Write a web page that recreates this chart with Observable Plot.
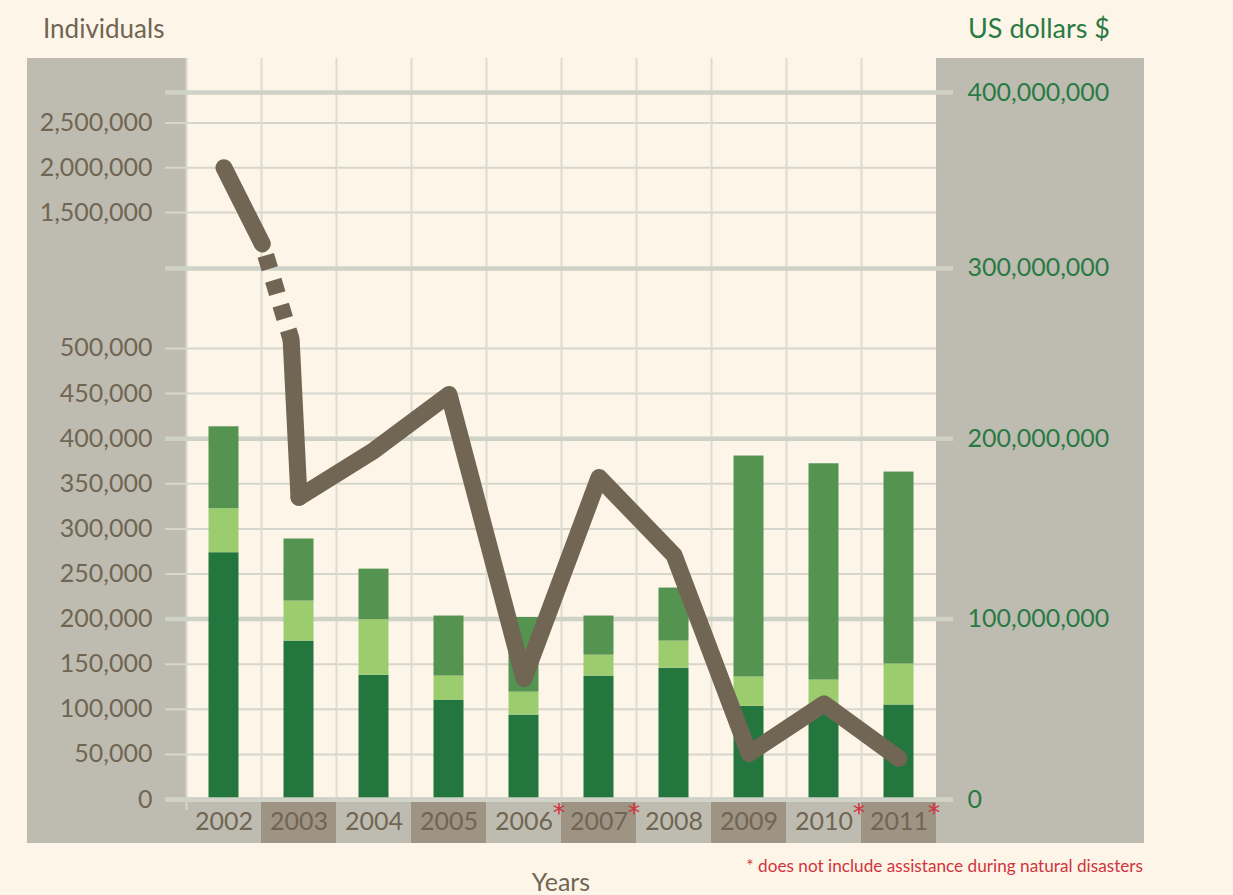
<!DOCTYPE html>
<html><head><meta charset="utf-8">
<script src="https://cdn.jsdelivr.net/npm/d3@7"></script>
<script src="https://cdn.jsdelivr.net/npm/@observablehq/plot@0.6"></script>
<style>
html,body{margin:0;padding:0;background:#fdf5e8;}
#wrap{position:relative;width:1233px;height:895px;overflow:hidden;font-family:Lato,"Open Sans",sans-serif;}
.panel{position:absolute;background:#bebcb0;}
.box{position:absolute;top:802px;height:41px;}
.lbl{position:absolute;white-space:nowrap;font-size:25px;line-height:25px;}
#chart{position:absolute;left:0;top:0;}
</style></head><body>
<div id="wrap">
  <div class="panel" style="left:27px;top:58px;width:159px;height:785px"></div>
  <div class="panel" style="left:936px;top:58px;width:208px;height:785px"></div>
  <div id="boxes"></div>
  <div id="chart"></div>
  <div class="lbl" style="left:43px;top:15px;font-size:26px;line-height:26px;color:#716553">Individuals</div>
  <div class="lbl" style="left:968px;top:14px;font-size:27px;line-height:27px;color:#2a7a45">US dollars $</div>
  <div class="lbl" style="left:561px;top:869px;transform:translateX(-50%);color:#716553">Years</div>
  <div class="lbl" style="right:90px;top:857px;font-size:17.2px;line-height:17px;color:#d1343c">* does not include assistance during natural disasters</div>
</div>
<script>
// ---------- data ----------
const years = [2002, 2003, 2004, 2005, 2006, 2007, 2008, 2009, 2010, 2011];
// individuals (line, left axis)
const individuals = [2000000, 335000, 387000, 449000, 134000, 357000, 271000, 51000, 106000, 45500];
// US dollars, millions (stacked bars, right axis)
const fundingDarkM   = [136.8, 87.8, 68.9, 55.1, 46.8, 68.4, 72.8, 51.7, 51.2, 52.4];
const fundingLightM  = [24.4, 22.2, 30.8, 13.3, 12.7, 11.6, 15.0, 16.2, 15.0, 22.7];
const fundingMediumM = [45.8, 34.4, 28.0, 33.3, 41.4, 21.7, 29.4, 122.5, 119.9, 106.4];
const starYears = [2006, 2007, 2010, 2011];
const individualTicks = [0, 50000, 100000, 150000, 200000, 250000, 300000, 350000, 400000, 450000, 500000, 1500000, 2000000, 2500000];
const dollarTicksM = [0, 100, 200, 300, 400];

// ---------- broken-axis mappings (value -> common y unit) ----------
const BREAK_LOW = 510000, BREAK_HIGH = 1150000;
const indivToY = d3.scaleLinear().domain([0, BREAK_LOW, BREAK_HIGH, 2500000]).range([0, 510000, 616000, 750100]);
const dollarsMToY = d3.scaleLinear().domain([0, 200, 300, 400]).range([0, 400000, 588700, 783800]);

const colors = {dark: "#24763f", light: "#9bcd6f", medium: "#559351"};
const seriesList = [
  {name: "dark", values: fundingDarkM},
  {name: "light", values: fundingLightM},
  {name: "medium", values: fundingMediumM}
];
const barRows = years.flatMap((yr, i) => {
  let c = 0;
  return seriesList.map(s => { const y1 = c; c += s.values[i]; return {year: yr, series: s.name, y1, y2: c}; });
});

const linePts = years.map((yr, i) => ({year: yr, v: individuals[i]}));
// segment 2002 -> 2003 crosses the axis break
const a = linePts[0], b = linePts[1];
const tAt = v => (a.v - v) / (a.v - b.v);
const xHigh = a.year + tAt(BREAK_HIGH) * (b.year - a.year);
const xLow = a.year + tAt(BREAK_LOW) * (b.year - a.year);
const solidParts = [
  {x1: a.year, y1: indivToY(a.v), x2: xHigh, y2: indivToY(BREAK_HIGH)},
  {x1: xLow, y1: indivToY(BREAK_LOW), x2: b.year, y2: indivToY(b.v)}
];
const dashedPart = [{x1: xHigh, y1: indivToY(BREAK_HIGH), x2: xLow, y2: indivToY(BREAK_LOW)}];

const leftLabel = new Map(individualTicks.map(t => [indivToY(t), d3.format(",")(t)]));
const rightLabel = new Map(dollarTicksM.map(t => [dollarsMToY(t), d3.format(",")(t * 1e6)]));

const lineColor = "#716553";
const boundaries = years.map(y => y + 0.5).slice(0, -1);

const plot = Plot.plot({
  width: 1233, height: 895,
  marginLeft: 186, marginRight: 297, marginTop: 58, marginBottom: 96,
  style: {background: "transparent", fontFamily: "Lato, 'Open Sans', sans-serif", overflow: "visible"},
  x: {type: "linear", domain: [2001.5, 2011.5]},
  y: {domain: [0, 821500]},
  color: {domain: ["dark", "light", "medium"], range: [colors.dark, colors.light, colors.medium]},
  marks: [
    Plot.ruleY(individualTicks.map(indivToY), {stroke: "#d6d6cc", strokeWidth: 2, insetLeft: -21}),
    Plot.ruleX(boundaries, {stroke: "#dcdcd1", strokeWidth: 2}),
    Plot.ruleX([2001.5], {stroke: "#d8d8ce", strokeWidth: 2, insetBottom: -11}),
    Plot.ruleY(dollarTicksM.map(dollarsMToY), {stroke: "#cfd2c6", strokeWidth: 4.5, insetLeft: -21, insetRight: -17}),
    Plot.rect(barRows, {x1: d => d.year - 0.2, x2: d => d.year + 0.2, y1: d => dollarsMToY(d.y1), y2: d => dollarsMToY(d.y2), fill: "series"}),
    Plot.ruleY([0], {stroke: "#cfd2c6", strokeWidth: 4.5, insetLeft: -21, insetRight: -17}),
    Plot.link(solidParts, {x1: "x1", y1: "y1", x2: "x2", y2: "y2", stroke: lineColor, strokeWidth: 17, strokeLinecap: "round"}),
    Plot.link(dashedPart, {x1: "x1", y1: "y1", x2: "x2", y2: "y2", stroke: lineColor, strokeWidth: 17, strokeLinecap: "butt", strokeDasharray: "14,12", strokeDashoffset: 14}),
    Plot.line(linePts.slice(1), {x: "year", y: d => indivToY(d.v), stroke: lineColor, strokeWidth: 17, strokeLinecap: "round", strokeLinejoin: "round"}),
    Plot.axisY({anchor: "left", ticks: individualTicks.map(indivToY), tickFormat: d => leftLabel.get(d), tickSize: 0, tickPadding: 34, fontSize: 25, fill: "#716553"}),
    Plot.axisY({anchor: "right", ticks: dollarTicksM.map(dollarsMToY), tickFormat: d => rightLabel.get(d), tickSize: 0, tickPadding: 31, fontSize: 25, fill: "#2a7a45"}),
    Plot.axisX({ticks: years, tickFormat: d => String(d), tickSize: 0, tickPadding: 13, fontSize: 25, fill: "#716553"}),
    Plot.text(starYears, {x: d => d, frameAnchor: "bottom", dx: 35, dy: 21, text: () => "*", fill: "#d1343c", fontSize: 25, fontFamily: "DejaVu Sans"})
  ]
});
document.getElementById("chart").appendChild(plot);

const xs = plot.scale("x");
const boxes = document.getElementById("boxes");
years.forEach((yr, i) => {
  const l = xs.apply(yr - 0.5), r = xs.apply(yr + 0.5);
  const div = document.createElement("div");
  div.className = "box";
  div.style.left = l + "px";
  div.style.width = (r - l) + "px";
  div.style.background = i % 2 ? "#9d9484" : "#bebcb0";
  boxes.appendChild(div);
});
</script>
</body></html>
